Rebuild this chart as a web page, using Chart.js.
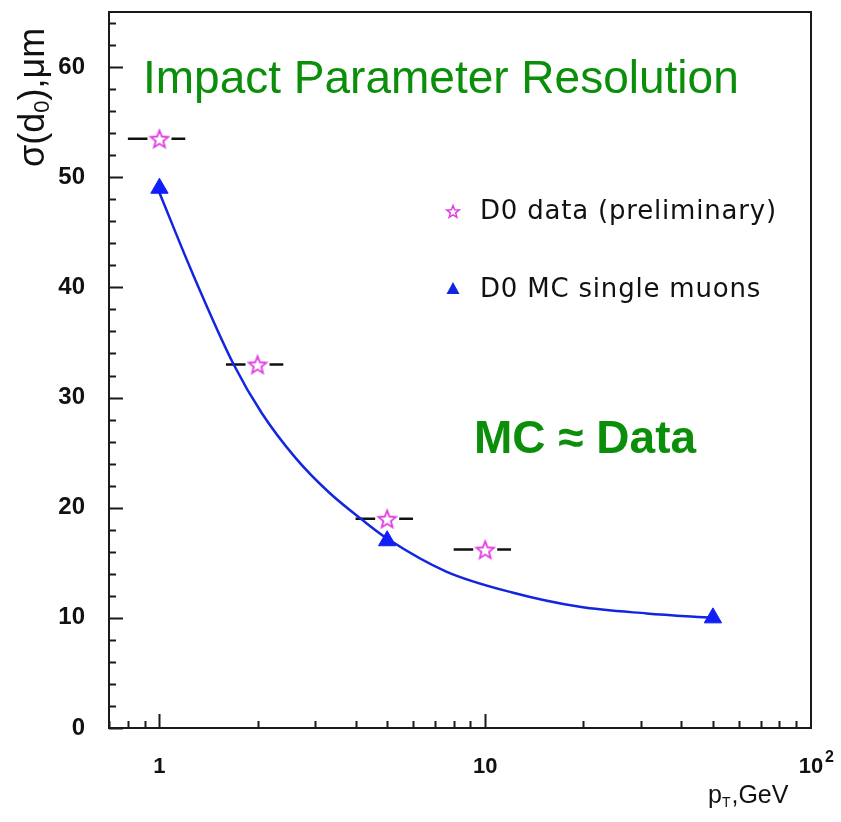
<!DOCTYPE html>
<html>
<head>
<meta charset="utf-8">
<title>Impact Parameter Resolution</title>
<script src="https://cdn.jsdelivr.net/npm/chart.js@4.4.1/dist/chart.umd.min.js"></script>
<style>
  html, body { margin: 0; padding: 0; background: #fff; }
  canvas { display: block; }
</style>
</head>
<body>
<canvas id="ipChart" width="841" height="822"></canvas>
<script>
// D0 data (preliminary): pT bin centre, resolution, bin edges
const dataPt = [1, 2, 5, 10];
const dataSigma = [53.5, 33, 19, 16.2];
const dataPtLo = [0.8, 1.6, 4, 8];
const dataPtHi = [1.2, 2.4, 6, 12];

// D0 MC single muons
const mcPt = [1, 5, 50];
const mcSigma = [49, 17, 10];

// fitted curve through the MC points
const fitPt = [1, 1.25, 1.69, 2.06, 2.62, 3.31, 4.19, 5, 7.59, 12.1, 19.5, 31.3, 50];
const fitSigma = [48.6, 41.6, 33.0, 28.6, 24.5, 21.4, 18.9, 17.2, 14.2, 12.3, 11.0, 10.4, 10.0];

// axis ticks
const yTickLabels = [0, 10, 20, 30, 40, 50, 60];
const xTickLabels = [1, 10, 100];
const xMinorTicks = [0.7, 0.8, 0.9, 2, 3, 4, 5, 6, 7, 8, 9, 20, 30, 40, 50, 60, 70, 80, 90];

const GREEN = '#0b8f0b';
const BLUE = '#1226e0';
const MAGENTA = '#e03ce0';
const SANS = '"Liberation Sans", Arial, sans-serif';

// open five-pointed star used as the data marker
function makeStar(size, outer, inner, lw) {
  const c = document.createElement('canvas');
  c.width = size; c.height = size;
  const g = c.getContext('2d');
  g.beginPath();
  for (let i = 0; i < 10; i++) {
    const r = i % 2 === 0 ? outer : inner;
    const a = -Math.PI / 2 + i * Math.PI / 5;
    const px = size / 2 + r * Math.cos(a);
    const py = size / 2 + r * Math.sin(a) + 1;
    if (i === 0) g.moveTo(px, py); else g.lineTo(px, py);
  }
  g.closePath();
  g.fillStyle = '#fff';
  g.fill();
  g.strokeStyle = MAGENTA;
  g.lineWidth = lw;
  g.stroke();
  return c;
}
const starIcon = makeStar(22, 9.2, 4, 1.8);
const starSmall = makeStar(16, 6.5, 2.8, 1.5);

// frame, inward ticks, error bars and the text on the plot
const decor = {
  id: 'decor',
  beforeDatasetsDraw(chart) {
    const { ctx, scales: { x, y } } = chart;
    ctx.save();
    ctx.strokeStyle = '#111';
    ctx.lineWidth = 2.5;
    for (let i = 0; i < dataPt.length; i++) {
      const cx = x.getPixelForValue(dataPt[i]);
      const cy = y.getPixelForValue(dataSigma[i]);
      ctx.beginPath();
      ctx.moveTo(x.getPixelForValue(dataPtLo[i]), cy);
      ctx.lineTo(cx - 12, cy);
      ctx.moveTo(cx + 12, cy);
      ctx.lineTo(x.getPixelForValue(dataPtHi[i]), cy);
      ctx.stroke();
    }
    ctx.restore();
  },
  afterDraw(chart) {
    const { ctx, chartArea: a, scales: { x, y } } = chart;
    ctx.save();
    ctx.strokeStyle = '#1a1a1a';
    ctx.lineWidth = 2;
    ctx.strokeRect(a.left, a.top, a.right - a.left, a.bottom - a.top);

    ctx.beginPath();
    for (let v = 0; v <= 64; v += 2) {
      const py = Math.round(y.getPixelForValue(v)) + 0.5;
      const len = v % 10 === 0 ? 14 : 7;
      ctx.moveTo(a.left, py);
      ctx.lineTo(a.left + len, py);
    }
    xTickLabels.concat(xMinorTicks).forEach(v => {
      if (v >= 100) return;
      const px = Math.round(x.getPixelForValue(v)) + 0.5;
      const len = xTickLabels.includes(v) ? 14 : 7;
      ctx.moveTo(px, a.bottom);
      ctx.lineTo(px, a.bottom - len);
    });
    ctx.stroke();

    // exponent of the 10^2 tick label
    ctx.fillStyle = '#111';
    ctx.font = 'bold 16px ' + SANS;
    ctx.textBaseline = 'alphabetic';
    ctx.fillText('2', x.getPixelForValue(100) + 14, 762);

    // title and note
    ctx.fillStyle = GREEN;
    ctx.font = '46px ' + SANS;
    ctx.fillText('Impact Parameter Resolution', 143, 93);
    ctx.font = 'bold 46px ' + SANS;
    ctx.fillText('MC \u2248 Data', 474, 453);

    // legend
    ctx.fillStyle = '#111';
    ctx.font = '26px "DejaVu Sans", sans-serif';
    ctx.letterSpacing = '0.8px';
    ctx.textBaseline = 'middle';
    ctx.drawImage(starSmall, 453 - 8, 211 - 8);
    ctx.fillText('D0 data (preliminary)', 480, 212);
    ctx.fillStyle = BLUE;
    ctx.beginPath();
    ctx.moveTo(453, 282);
    ctx.lineTo(459.5, 294);
    ctx.lineTo(446.5, 294);
    ctx.closePath();
    ctx.fill();
    ctx.fillStyle = '#111';
    ctx.fillText('D0 MC single muons', 480, 290);
    ctx.letterSpacing = '0px';

    // y axis title
    ctx.save();
    ctx.translate(44, 167);
    ctx.rotate(-Math.PI / 2);
    ctx.textBaseline = 'alphabetic';
    let tx = 0;
    const part = (s, f, dy) => { ctx.font = f; ctx.fillText(s, tx, dy); tx += ctx.measureText(s).width; };
    part('\u03c3(d', '36px "Liberation Sans", "DejaVu Sans", sans-serif', 0);
    part('0', '22px ' + SANS, 5);
    part('),\u03bcm', '36px "Liberation Sans", "DejaVu Sans", sans-serif', 0);
    ctx.restore();

    // x axis title
    ctx.textBaseline = 'alphabetic';
    const big = '25px ' + SANS;
    const small = '14px ' + SANS;
    let sx = 708;
    ctx.font = big; ctx.fillText('p', sx, 803); sx += ctx.measureText('p').width;
    ctx.font = small; ctx.fillText('T', sx, 807); sx += ctx.measureText('T').width + 1;
    ctx.font = big; ctx.fillText(',GeV', sx, 803);
    ctx.restore();
  }
};

new Chart(document.getElementById('ipChart'), {
  type: 'line',
  data: {
    datasets: [
      {
        label: 'fit',
        data: fitPt.map((p, i) => ({ x: p, y: fitSigma[i] })),
        borderColor: BLUE,
        borderWidth: 2.5,
        pointRadius: 0,
        cubicInterpolationMode: 'monotone',
        fill: false,
        order: 3
      },
      {
        label: 'D0 MC single muons',
        data: mcPt.map((p, i) => ({ x: p, y: mcSigma[i] })),
        showLine: false,
        pointStyle: 'triangle',
        pointRadius: 10,
        backgroundColor: '#0f1ff5',
        borderColor: '#0f1ff5',
        borderWidth: 1,
        order: 2
      },
      {
        label: 'D0 data (preliminary)',
        data: dataPt.map((p, i) => ({ x: p, y: dataSigma[i] })),
        showLine: false,
        pointStyle: starIcon,
        order: 1
      }
    ]
  },
  options: {
    responsive: false,
    animation: false,
    layout: { padding: { top: 12, right: 30, left: 0, bottom: 0 } },
    plugins: { legend: { display: false }, tooltip: { enabled: false } },
    scales: {
      x: {
        type: 'logarithmic',
        min: 0.7,
        max: 100,
        afterFit: s => {
          s.height = 94;
          s.paddingLeft = 0;
          s.paddingRight = 0;
        },
        afterBuildTicks: s => { s.ticks = xTickLabels.map(v => ({ value: v })); },
        grid: { display: false },
        border: { display: false },
        ticks: {
          padding: 18,
          color: '#111',
          font: { family: SANS, size: 22, weight: 'bold' },
          maxRotation: 0,
          autoSkip: false,
          callback: v => (v === 100 ? '10' : String(v))
        }
      },
      y: {
        min: 0,
        max: 65,
        afterFit: s => {
          s.width = 109;
          s.paddingTop = 0;
          s.paddingBottom = 0;
        },
        afterBuildTicks: s => { s.ticks = yTickLabels.map(v => ({ value: v })); },
        grid: { display: false },
        border: { display: false },
        ticks: {
          padding: 16,
          color: '#111',
          font: { family: SANS, size: 24, weight: 'bold' }
        }
      }
    }
  },
  plugins: [decor]
});
</script>
</body>
</html>
